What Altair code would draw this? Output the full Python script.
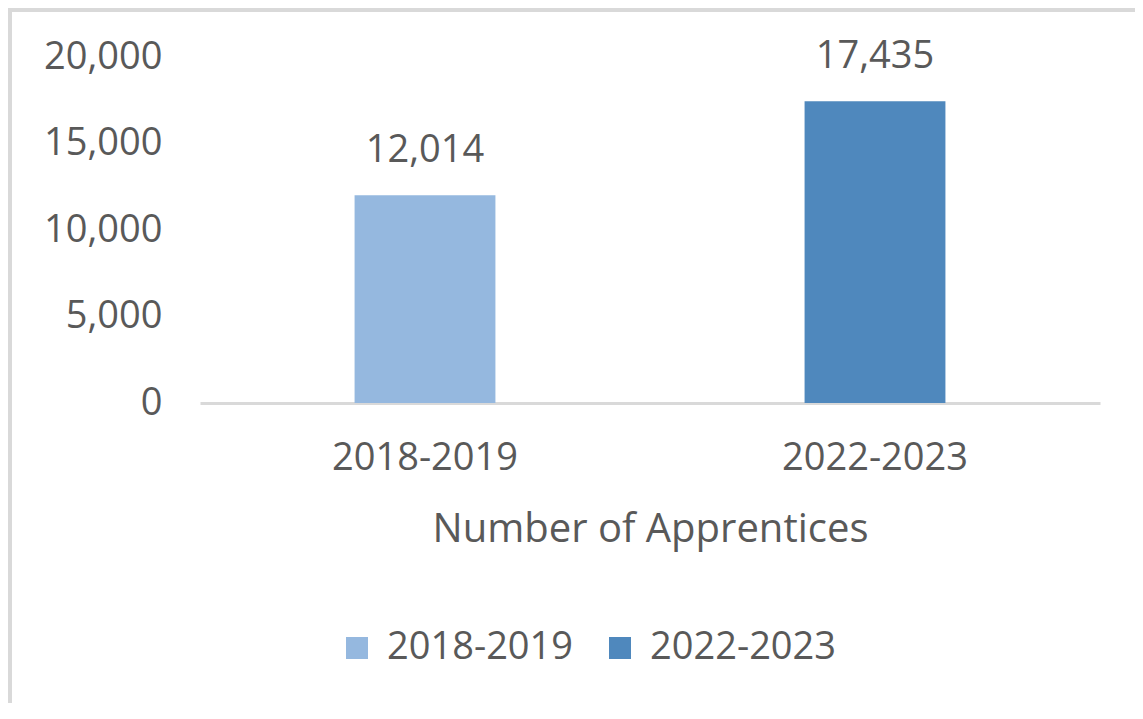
import altair as alt
import pandas as pd

categories = ["2018-2019", "2022-2023"]
values = [12014, 17435]
colors = ["#95B8DF", "#4F88BD"]
y_ticks = [0, 5000, 10000, 15000, 20000]

df = pd.DataFrame({"period": categories, "apprentices": values})

FONT = "Open Sans"
GREY = "#595959"
FS = 38

base = alt.Chart(df)

bars = base.mark_bar().encode(
    x=alt.X("period:N", sort=categories,
            scale=alt.Scale(paddingInner=0.687, paddingOuter=0.3435),
            axis=alt.Axis(title="Number of Apprentices", labelAngle=0, ticks=False,
                          domainColor="#D9D9D9", domainWidth=3, labelPadding=36,
                          titlePadding=32, labelLimit=400, titleFontSize=40)),
    y=alt.Y("apprentices:Q", scale=alt.Scale(domain=[0, 20000]),
            axis=alt.Axis(title=None, values=y_ticks, format=",.0f", grid=False,
                          domain=False, ticks=False, labelPadding=38)),
    color=alt.Color("period:N", sort=categories,
                    scale=alt.Scale(domain=categories, range=colors),
                    legend=alt.Legend(title=None, orient="none", direction="horizontal",
                                      legendX=138, legendY=572, symbolType="square",
                                      symbolSize=484, symbolStrokeWidth=0,
                                      labelOffset=11, columnPadding=27, labelLimit=400)),
)

labels = base.mark_text(baseline="middle", dy=-44, font=FONT, fontSize=FS, color=GREY).encode(
    x=alt.X("period:N", sort=categories),
    y="apprentices:Q",
    text=alt.Text("apprentices:Q", format=",.0f"),
)

border_left = base.mark_rule(color="#D9D9D9", strokeWidth=4).encode(
    x=alt.value(-190), y=alt.value(-49), y2=alt.value(703 - 49)
)
border_top = base.mark_rule(color="#D9D9D9", strokeWidth=4).encode(
    x=alt.value(-192), x2=alt.value(943), y=alt.value(-47)
)

chart = alt.layer(bars, labels, border_left, border_top).properties(
    width=900, height=346,
    autosize=alt.AutoSizeParams(type="none"),
    padding={"left": 192, "top": 49, "right": 35, "bottom": 300},
).configure_view(stroke=None).configure_axis(
    labelFont=FONT, titleFont=FONT, labelFontSize=FS,
    labelColor=GREY, titleColor=GREY, titleFontWeight="normal",
).configure_legend(
    labelFont=FONT, labelFontSize=FS, labelColor=GREY,
)

chart.save("out.html", embed_options={"renderer": "svg", "actions": False})
